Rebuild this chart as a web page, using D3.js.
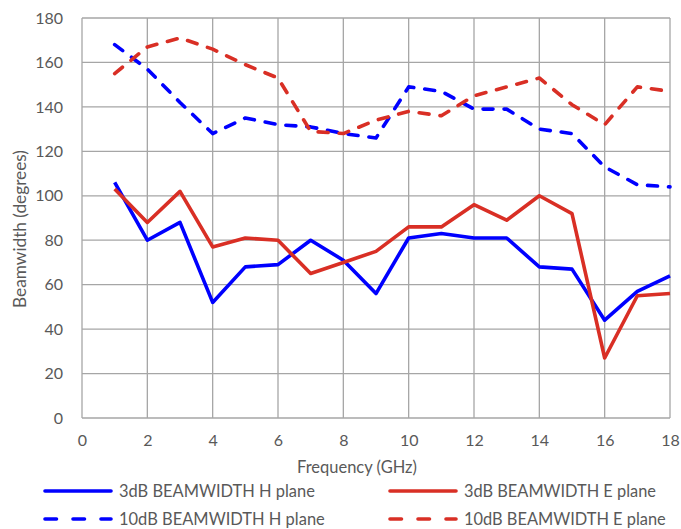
<!DOCTYPE html>
<html>
<head>
<meta charset="utf-8">
<script src="https://cdn.jsdelivr.net/npm/d3@7"></script>
<style>
  body { margin: 0; background: #fff; }
  svg text { font-family: Lato, "Open Sans", sans-serif; fill: #595959; }
</style>
</head>
<body>
<svg id="chart" width="681" height="529"></svg>
<script>
'use strict';

// frequencies (GHz)
var freq = [1, 2, 3, 4, 5, 6, 7, 8, 9, 10, 11, 12, 13, 14, 15, 16, 17, 18];

var h3dB  = [106, 80, 88, 52, 68, 69, 80, 71, 56, 81, 83, 81, 81, 68, 67, 44, 57, 64];
var e3dB  = [103, 88, 102, 77, 81, 80, 65, 70, 75, 86, 86, 96, 89, 100, 92, 27, 55, 56];
var h10dB = [168, 157, 142, 128, 135, 132, 131, 128, 126, 149, 147, 139, 139, 130, 128, 113, 105, 104];
var e10dB = [155, 167, 171, 166, 159, 153, 129, 128, 134, 138, 136, 145, 149, 153, 141, 132, 149, 147];

var xTicks = [0, 2, 4, 6, 8, 10, 12, 14, 16, 18];
var yTicks = [0, 20, 40, 60, 80, 100, 120, 140, 160, 180];

var series = [
  { name: "3dB BEAMWIDTH H plane",  values: h3dB,  color: "#0000ff", dashed: false },
  { name: "3dB BEAMWIDTH E plane",  values: e3dB,  color: "#d92f25", dashed: false },
  { name: "10dB BEAMWIDTH H plane", values: h10dB, color: "#0000ff", dashed: true },
  { name: "10dB BEAMWIDTH E plane", values: e10dB, color: "#d92f25", dashed: true }
];

var svg = d3.select("#chart");
var plotLeft = 82, plotRight = 670, plotTop = 18, plotBottom = 418;

var x = d3.scaleLinear().domain([0, 18]).range([plotLeft, plotRight]);
var y = d3.scaleLinear().domain([0, 180]).range([plotBottom, plotTop]);

// shrink/grow the font so the text is as wide as in the original (Calibri is not installed)
var fitWidth = function(sel, width) {
  sel.each(function() {
    var len = this.getComputedTextLength();
    var fs = parseFloat(d3.select(this).style("font-size"));
    d3.select(this).style("font-size", (fs * width / len) + "px");
  });
};

// gridlines
var grid = svg.append("g");
grid.selectAll("line.v").data(xTicks).enter().append("line")
  .attr("x1", function(d) { return x(d); }).attr("x2", function(d) { return x(d); })
  .attr("y1", plotTop).attr("y2", plotBottom)
  .attr("stroke", "#a6a6a6").attr("stroke-width", 1.3);
grid.selectAll("line.h").data(yTicks).enter().append("line")
  .attr("x1", plotLeft).attr("x2", plotRight)
  .attr("y1", function(d) { return y(d); }).attr("y2", function(d) { return y(d); })
  .attr("stroke", "#a6a6a6").attr("stroke-width", 1.3);

// axes (labels only)
var xAxis = svg.append("g").attr("transform", "translate(0," + (plotBottom + 10) + ")")
  .call(d3.axisBottom(x).tickValues(xTicks).tickSize(0).tickPadding(7));
var yAxis = svg.append("g").attr("transform", "translate(" + (plotLeft - 19) + ",0)")
  .call(d3.axisLeft(y).tickValues(yTicks).tickSize(0).tickPadding(0));
[xAxis, yAxis].forEach(function(a) {
  a.select(".domain").remove();
  a.selectAll("text").style("font-size", "16px").attr("fill", "#595959")
    .style("font-family", "Lato, 'Open Sans', sans-serif");
});

// axis titles
svg.append("text")
  .attr("x", 357).attr("y", 473)
  .attr("text-anchor", "middle").style("font-size", "16px")
  .text("Frequency (GHz)")
  .call(fitWidth, 120);
svg.append("text")
  .attr("transform", "translate(26,229) rotate(-90)")
  .attr("text-anchor", "middle").style("font-size", "16px")
  .text("Beamwidth (degrees)")
  .call(fitWidth, 158);

// lines
var line = d3.line()
  .x(function(d, i) { return x(freq[i]); })
  .y(function(d) { return y(d); });

svg.selectAll("path.series").data(series).enter().append("path")
  .attr("class", "series")
  .attr("d", function(s) { return line(s.values); })
  .attr("fill", "none")
  .attr("stroke", function(s) { return s.color; })
  .attr("stroke-width", 3.6)
  .attr("stroke-linejoin", "round")
  .attr("stroke-linecap", function(s) { return s.dashed ? "round" : "butt"; })
  .attr("stroke-dasharray", function(s) { return s.dashed ? "10,11" : null; });

// legend
var legendPos = [[43, 491], [388, 491], [43, 519], [388, 519]];
var legendWidth = [196, 192, 206, 202];
var legend = svg.selectAll("g.legend").data(series).enter().append("g")
  .attr("transform", function(s, i) { return "translate(" + legendPos[i][0] + "," + legendPos[i][1] + ")"; });
legend.append("line")
  .attr("x1", 2).attr("x2", 68).attr("y1", 0).attr("y2", 0)
  .attr("stroke", function(s) { return s.color; })
  .attr("stroke-width", 3.6)
  .attr("stroke-linecap", "round")
  .attr("stroke-dasharray", function(s) { return s.dashed ? "11.5,16.5" : null; });
legend.append("text")
  .attr("x", 76).attr("y", 6)
  .style("font-size", "16px")
  .text(function(s) { return s.name; })
  .each(function(s, i) { d3.select(this).call(fitWidth, legendWidth[i]); });
</script>
</body>
</html>
